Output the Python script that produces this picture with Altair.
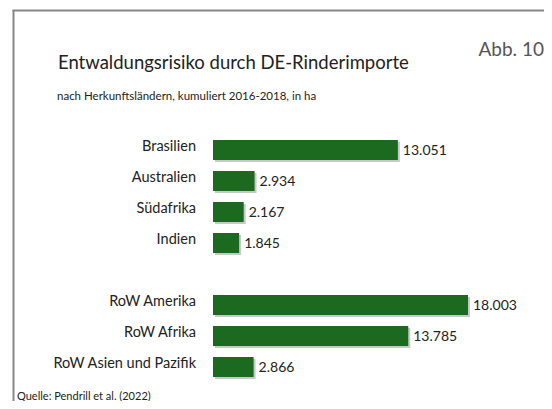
import altair as alt
import pandas as pd

# ---- data ----
categories = ["Brasilien", "Australien", "Südafrika", "Indien", " ",
              "RoW Amerika", "RoW Afrika", "RoW Asien und Pazifik"]
values = [13051, 2934, 2167, 1845, None, 18003, 13785, 2866]
title_text = "Entwaldungsrisiko durch DE-Rinderimporte"
subtitle_text = "nach Herkunftsländern, kumuliert 2016-2018, in ha"
fig_text = "Abb. 10"
source_text = "Quelle: Pendrill et al. (2022)"

rows = [
    {"cat": c, "val": v, "label": f"{v:,}".replace(",", ".")}
    for c, v in zip(categories, values) if v is not None
]
df = pd.DataFrame(rows)

FONT = "Lato"
GREEN = "#1c6a20"

xs = alt.Scale(domain=[0, 18003], range=[205, 460])
ys = alt.Scale(domain=categories, range=[126.5, 374.5],
               paddingInner=0.355, paddingOuter=0.1775)

X = alt.X("val:Q", scale=xs, axis=None)
Y = alt.Y("cat:N", scale=ys, axis=None, sort=None)

base = alt.Chart(df)

shadow = base.mark_bar(color="#b0b0b0", opacity=0.7, xOffset=2, yOffset=2).encode(x=X, y=Y)
bars = base.mark_bar(color=GREEN).encode(x=X, y=Y)
vals = base.mark_text(align="left", baseline="middle", dx=5, dy=1,
                      font=FONT, fontSize=14, color="#222").encode(x=X, y=Y, text="label:N")
cats = base.mark_text(align="right", baseline="middle", dy=-3,
                      font=FONT, fontSize=14.5, color="#222").encode(
    x=alt.value(188), y=Y, text="cat:N")


def txt(s, x, y, size, color="#222", align="left"):
    return alt.Chart(pd.DataFrame({"t": [s]})).mark_text(
        align=align, baseline="alphabetic", font=FONT, fontSize=size, color=color
    ).encode(x=alt.value(x), y=alt.value(y), text="t:N")


title = txt(title_text, 50, 61, 18.5)
subtitle = txt(subtitle_text, 49, 92, 11.5)
fig = txt(fig_text, 536, 48, 19, color="#555", align="right")
source = txt(source_text, 9, 392, 11)

frame_df = pd.DataFrame({"k": [0]})
left_line = alt.Chart(frame_df).mark_rule(color="#888", strokeWidth=2).encode(
    x=alt.value(5.5), y=alt.value(2), y2=alt.value(393))
top_line = alt.Chart(frame_df).mark_rule(color="#888", strokeWidth=2).encode(
    x=alt.value(4.5), x2=alt.value(536), y=alt.value(2.5))

chart = alt.layer(left_line, top_line, shadow, bars, vals, cats,
                  title, subtitle, fig, source).properties(
    width=536, height=393, padding=0,
    autosize=alt.AutoSizeParams(type="none"),
    background="white",
).configure_view(stroke=None)

chart.save("out.html", embed_options={"renderer": "svg", "actions": False})
